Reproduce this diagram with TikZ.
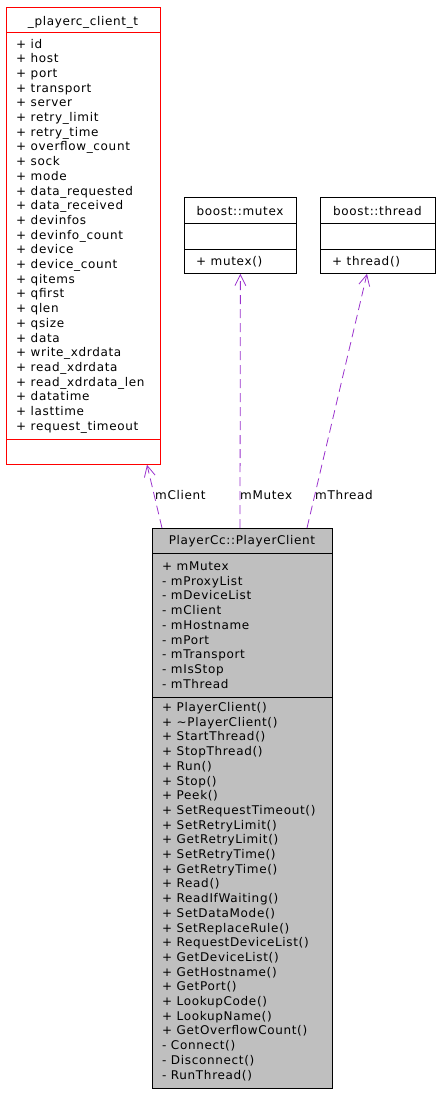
\documentclass[tikz,border=0pt]{standalone}
\usepackage{fontspec}
\setmainfont{DejaVu Sans}[LetterSpace=5.5]
\usetikzlibrary{arrows.meta}
\definecolor{edgec}{HTML}{9A32CD}
\definecolor{fillc}{HTML}{BFBFBF}
\begin{document}
\begin{tikzpicture}[x=1pt,y=-1pt,
  every node/.style={font=\fontsize{12}{14.7}\selectfont, inner sep=0pt},
  txt/.style={anchor=base west},
  ttl/.style={anchor=base},
  cls/.style={draw, line width=0.8pt, anchor=north west, inner sep=0pt},
  sep/.style={line width=0.8pt},
  rel/.style={draw=edgec, line width=0.8pt, dash pattern=on 9pt off 5pt, -{Straight Barb[length=11pt,width=11pt]}},
  lbl/.style={anchor=base west}]
\useasboundingbox (0,0) rectangle (443,1093);

% _playerc_client_t
\node[cls, draw=red, minimum width=154pt, minimum height=457pt] (pcl) at (6,7) {};
\draw[sep, red] ([yshift=-25pt]pcl.north west) -- ([yshift=-25pt]pcl.north east);
\draw[sep, red] ([yshift=-432pt]pcl.north west) -- ([yshift=-432pt]pcl.north east);
\node[ttl] (pclt) at (83,25) {\_playerc\_client\_t};
\foreach \t [count=\i] in {id,host,port,transport,server,retry\_limit,retry\_time,overflow\_count,sock,mode,data\_requested,data\_received,devinfos,devinfo\_count,device,device\_count,qitems,qfirst,qlen,qsize,data,write\_xdrdata,read\_xdrdata,read\_xdrdata\_len,datatime,lasttime,request\_timeout}
  \node[txt] (pcla\i) at (16,{48+(\i-1)*14.7}) {+ \t};

% boost::mutex
\node[cls, minimum width=112pt, minimum height=76pt] (mtx) at (184,197) {};
\draw[sep] ([yshift=-26pt]mtx.north west) -- ([yshift=-26pt]mtx.north east);
\draw[sep] ([yshift=-52pt]mtx.north west) -- ([yshift=-52pt]mtx.north east);
\node[ttl] (mtxt) at (240,215) {boost::mutex};
\node[txt] (mtxm) at (196,265) {+ mutex()};

% boost::thread
\node[cls, minimum width=115pt, minimum height=76pt] (thr) at (320,197) {};
\draw[sep] ([yshift=-26pt]thr.north west) -- ([yshift=-26pt]thr.north east);
\draw[sep] ([yshift=-52pt]thr.north west) -- ([yshift=-52pt]thr.north east);
\node[ttl] (thrt) at (377.5,215) {boost::thread};
\node[txt] (thrm) at (332,265) {+ thread()};

% PlayerCc::PlayerClient
\node[cls, fill=fillc, minimum width=180pt, minimum height=560pt] (pc) at (152,528) {};
\draw[sep] ([yshift=-25pt]pc.north west) -- ([yshift=-25pt]pc.north east);
\draw[sep] ([yshift=-169pt]pc.north west) -- ([yshift=-169pt]pc.north east);
\node[ttl] (pct) at (242,544) {PlayerCc::PlayerClient};
\foreach \t [count=\i] in {+ mMutex,- mProxyList,- mDeviceList,- mClient,- mHostname,- mPort,- mTransport,- mIsStop,- mThread}
  \node[txt] (pca\i) at (162,{570.5+(\i-1)*14.7}) {\t};
\foreach \t [count=\i] in {+ PlayerClient(),+ {\textasciitilde}PlayerClient(),+ StartThread(),+ StopThread(),+ Run(),+ Stop(),+ Peek(),+ SetRequestTimeout(),+ SetRetryLimit(),+ GetRetryLimit(),+ SetRetryTime(),+ GetRetryTime(),+ Read(),+ ReadIfWaiting(),+ SetDataMode(),+ SetReplaceRule(),+ RequestDeviceList(),+ GetDeviceList(),+ GetHostname(),+ GetPort(),+ LookupCode(),+ LookupName(),+ GetOverflowCount(),- Connect(),- Disconnect(),- RunThread()}
  \node[txt] (pcm\i) at (162,{711.5+(\i-1)*14.7}) {\t};

% relations
\draw[rel] ([xshift=10pt]pc.north west) -- ([xshift=141pt]pcl.south west);
\draw[rel] ([xshift=88pt]pc.north west) -- (mtx.south);
\draw[rel] ([xshift=155pt]pc.north west) -- ([xshift=47pt]thr.south west);
\node[lbl] (l1) at (155,499) {mClient};
\node[lbl] (l2) at (240,499) {mMutex};
\node[lbl] (l3) at (315,499) {mThread};
\end{tikzpicture}
\end{document}
